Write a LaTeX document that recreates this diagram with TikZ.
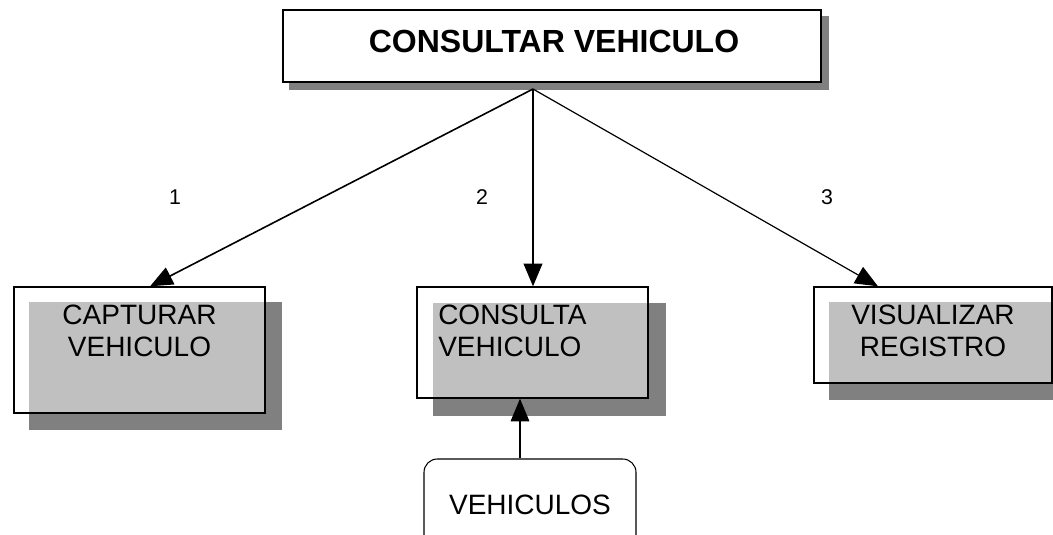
\documentclass[tikz,border=0pt]{standalone}
\usepackage{fontspec}
\setmainfont{Liberation Sans}
\usetikzlibrary{positioning,arrows.meta,calc,backgrounds}
\definecolor{shadowdark}{HTML}{808080}
\definecolor{shadowlight}{HTML}{C0C0C0}

\begin{document}
\begin{tikzpicture}[x=0.75pt,y=-0.75pt,>={Triangle[length=17pt,width=14pt]},
  box/.style={draw,line width=1pt,inner sep=0pt},
  boxtext/.style={font=\fontsize{21}{24}\selectfont,inner sep=0pt},
  num/.style={font=\fontsize{16}{19}\selectfont,inner sep=0pt}]
\useasboundingbox (0,0) rectangle (1053,535);
\clip (0,0) rectangle (1053,535);
\node[box,fill=white,line width=1.5pt,minimum width=403.5pt,minimum height=54pt] (top) at (552,46) {};
\node[font=\fontsize{24}{28}\selectfont\bfseries,inner sep=0pt] (toptxt) at (554,41) {CONSULTAR VEHICULO};
\node[box,minimum width=188.25pt,minimum height=94.5pt] (capt) at (139.5,350) {};
\node[box,minimum width=173.25pt,minimum height=83.25pt] (cons) at (532.5,342.5) {};
\node[box,minimum width=178.5pt,minimum height=72pt] (visu) at (933,335) {};
\node[boxtext,align=center] (capttxt) at (139.5,331) {CAPTURAR\\VEHICULO};
\node[boxtext,align=left,anchor=west] (constxt) at (438,331) {CONSULTA\\VEHICULO};
\node[boxtext,align=center] (visutxt) at (933,331) {VISUALIZAR\\REGISTRO};
\node[box,line width=0.8pt,rounded corners=10pt,minimum width=159pt,minimum height=69pt,font=\fontsize{21}{24}\selectfont] (vehs) at (530,505) {VEHICULOS};
\node[num] (n1) at (175,197) {1};
\node[num] (n2) at (482,197) {2};
\node[num] (n3) at (827,197) {3};
% shadows
\begin{scope}[on background layer]
\fill[shadowdark] ([shift={(7,7)}]top.north west) rectangle ([shift={(7,7)}]top.south east);
\fill[shadowdark] ([shift={(16,16)}]capt.north west) rectangle ([shift={(16,16)}]capt.south east);
\fill[shadowlight] ([shift={(16,16)}]capt.north west) rectangle (capt.south east);
\fill[shadowdark] ([shift={(17,17)}]cons.north west) rectangle ([shift={(17,17)}]cons.south east);
\fill[shadowlight] ([shift={(17,17)}]cons.north west) rectangle (cons.south east);
\fill[shadowdark] ([shift={(16,16)}]visu.north west) rectangle ([shift={(16,16)}]visu.south east);
\fill[shadowlight] ([shift={(16,16)}]visu.north west) rectangle (visu.south east);
\end{scope}
\coordinate (src) at (533,89);
\coordinate (feed) at ([xshift=-7.5pt]vehs.north);
\draw[->,line width=1.2pt] (src) -- ([xshift=7.9pt]capt.north);
\draw[->,line width=1.2pt] (src) -- (src |- cons.north);
\draw[->,line width=0.9pt] (src) -- ([xshift=-41.25pt]visu.north);
\draw[->,line width=0.8pt] (feed) -- (feed |- cons.south);
\end{tikzpicture}
\end{document}
